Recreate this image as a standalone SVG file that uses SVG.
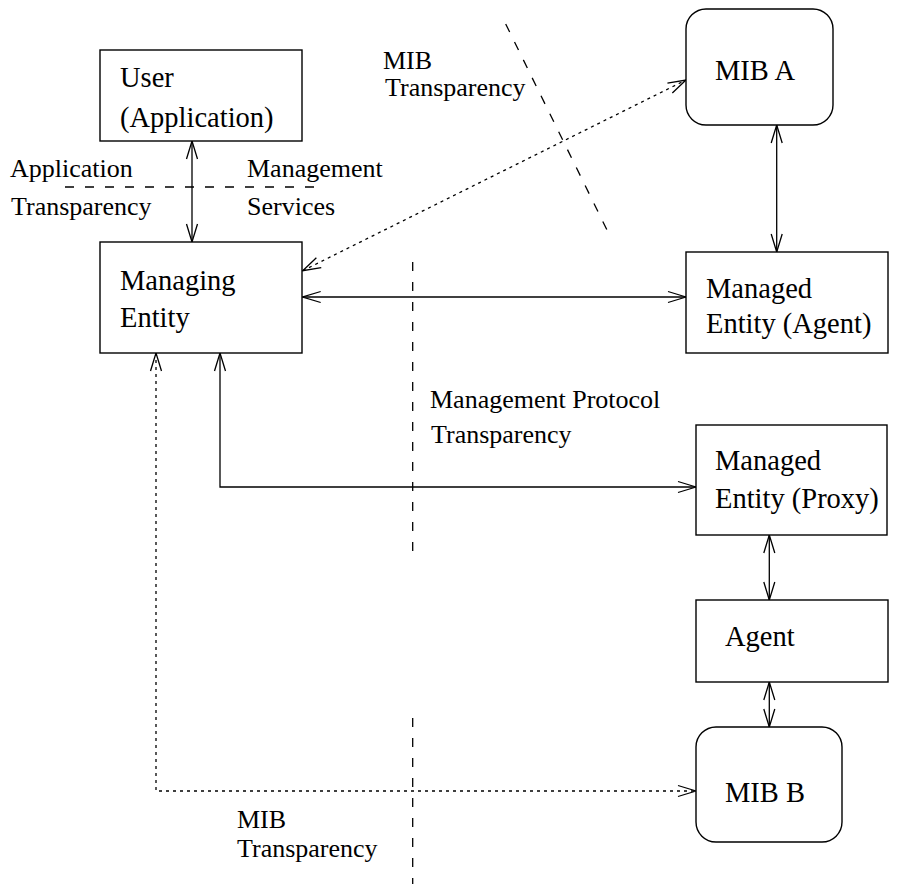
<svg xmlns="http://www.w3.org/2000/svg" width="898" height="888" viewBox="0 0 898 888">
  <style>
    .box { fill: #fff; stroke: #000; stroke-width: 1.4; }
    .node-text { font-family: "Liberation Serif", "Times New Roman", serif; font-size: 28.5px; fill: #000; }
    .label { font-family: "Liberation Serif", "Times New Roman", serif; font-size: 26px; fill: #000; }
    .link { fill: none; stroke: #000; stroke-width: 1.3; }
    .dotted { stroke-dasharray: 3 4; }
    .divider { fill: none; stroke: #000; stroke-width: 1.3; stroke-dasharray: 9 11; }
  </style>
  <defs>
    <marker id="open-arrow" viewBox="-20 -7 22 14" refX="0" refY="0" markerWidth="22" markerHeight="14" markerUnits="userSpaceOnUse" orient="auto-start-reverse">
      <path d="M -18 -5.5 L 0 0 L -18 5.5" fill="none" stroke="#000" stroke-width="1.3" stroke-dasharray="none"/>
    </marker>
  </defs>

  <rect width="898" height="888" fill="#fff"/>

  <!-- transparency boundaries -->
  <g id="boundaries">
    <line class="divider" x1="65" y1="187" x2="322" y2="187"/>
    <line class="divider" x1="505.7" y1="24" x2="608" y2="232"/>
    <line class="divider" x1="412.7" y1="262" x2="412.7" y2="560"/>
    <line class="divider" x1="412.7" y1="718" x2="412.7" y2="884"/>
  </g>

  <!-- connectors -->
  <g id="connectors">
    <line class="link" x1="192" y1="141" x2="192" y2="242" marker-start="url(#open-arrow)" marker-end="url(#open-arrow)"/>
    <line class="link" x1="302.7" y1="297" x2="686" y2="297" marker-start="url(#open-arrow)" marker-end="url(#open-arrow)"/>
    <line class="link" x1="776.7" y1="125" x2="776.7" y2="252" marker-start="url(#open-arrow)" marker-end="url(#open-arrow)"/>
    <line class="link dotted" x1="302.7" y1="270.7" x2="686" y2="80" marker-start="url(#open-arrow)" marker-end="url(#open-arrow)"/>
    <polyline class="link" points="220,353 220,487 696,487" marker-start="url(#open-arrow)" marker-end="url(#open-arrow)"/>
    <line class="link" x1="769.3" y1="535" x2="769.3" y2="600" marker-start="url(#open-arrow)" marker-end="url(#open-arrow)"/>
    <line class="link" x1="769.3" y1="682" x2="769.3" y2="727" marker-start="url(#open-arrow)" marker-end="url(#open-arrow)"/>
    <polyline class="link dotted" points="156,353 156,791 696,791" marker-start="url(#open-arrow)" marker-end="url(#open-arrow)"/>
  </g>

  <!-- nodes -->
  <g id="user">
    <rect class="box" x="100" y="50" width="202" height="91"/>
    <text class="node-text" x="120" y="87">User</text>
    <text class="node-text" x="120" y="127">(Application)</text>
  </g>
  <g id="managing-entity">
    <rect class="box" x="100" y="242" width="202" height="111"/>
    <text class="node-text" x="120" y="290">Managing</text>
    <text class="node-text" x="120" y="327">Entity</text>
  </g>
  <g id="mib-a">
    <rect class="box" x="686" y="9" width="147" height="116" rx="20" ry="20"/>
    <text class="node-text" x="715" y="80">MIB A</text>
  </g>
  <g id="managed-agent">
    <rect class="box" x="686" y="252" width="202" height="101"/>
    <text class="node-text" x="706" y="298">Managed</text>
    <text class="node-text" x="706" y="333">Entity (Agent)</text>
  </g>
  <g id="managed-proxy">
    <rect class="box" x="696" y="425" width="191" height="110"/>
    <text class="node-text" x="715" y="470">Managed</text>
    <text class="node-text" x="715" y="508">Entity (Proxy)</text>
  </g>
  <g id="agent">
    <rect class="box" x="696" y="600" width="192" height="82"/>
    <text class="node-text" x="725" y="646">Agent</text>
  </g>
  <g id="mib-b">
    <rect class="box" x="696" y="727" width="146" height="115" rx="20" ry="20"/>
    <text class="node-text" x="725" y="802">MIB B</text>
  </g>

  <!-- boundary labels -->
  <g id="labels">
    <text class="label" x="10" y="177">Application</text>
    <text class="label" x="11" y="215">Transparency</text>
    <text class="label" x="247" y="177">Management</text>
    <text class="label" x="247" y="215">Services</text>
    <text class="label" x="383" y="69">MIB</text>
    <text class="label" x="385" y="96">Transparency</text>
    <text class="label" x="430" y="408">Management Protocol</text>
    <text class="label" x="431" y="443">Transparency</text>
    <text class="label" x="237" y="828">MIB</text>
    <text class="label" x="237" y="857">Transparency</text>
  </g>
</svg>
